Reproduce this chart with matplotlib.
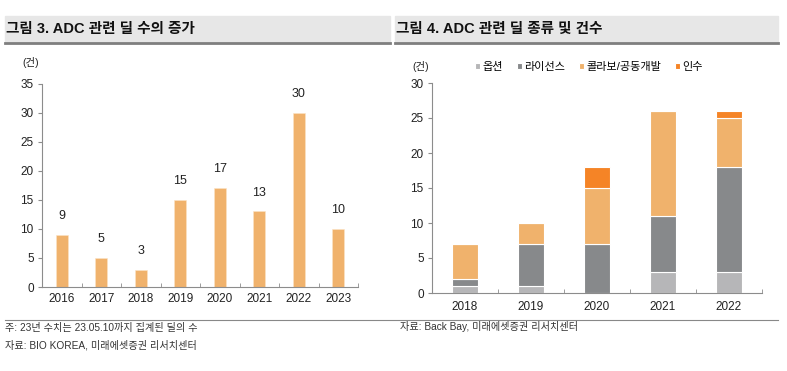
import matplotlib.pyplot as plt
import numpy as np
from matplotlib.patches import Rectangle
from matplotlib.lines import Line2D

plt.rcParams['font.family'] = ['Liberation Sans', 'Noto Sans CJK KR', 'DejaVu Sans']

# left chart: number of ADC deals per year
years_l = ['2016', '2017', '2018', '2019', '2020', '2021', '2022', '2023']
deals = [9, 5, 3, 15, 17, 13, 30, 10]

# right chart: deal types per year
years_r = ['2018', '2019', '2020', '2021', '2022']
series_names = ['옵션', '라이선스', '콜라보/공동개발', '인수']
option = [1, 1, 0, 3, 3]
license_ = [1, 6, 7, 8, 15]
collab = [5, 3, 8, 15, 7]
acquis = [0, 0, 3, 0, 1]
series = [option, license_, collab, acquis]
colors = ['#b6b6b8', '#87898b', '#f0b26c', '#f58426']

W, H = 787, 371
fig = plt.figure(figsize=(W / 100, H / 100), dpi=100)

def fx(x):
    return x / W

def fy(y):
    return 1 - y / H

def px_axes(x0, y0, x1, y1):
    return fig.add_axes([fx(x0), fy(y1), fx(x1 - x0), (y1 - y0) / H])

# title bands
for x0, x1, title in [(5, 390, '그림 3. ADC 관련 딜 수의 증가'),
                      (395, 778, '그림 4. ADC 관련 딜 종류 및 건수')]:
    fig.patches.append(Rectangle((fx(x0), fy(42)), fx(x1 - x0), 26 / H,
                                 transform=fig.transFigure, color='#e7e7e7', zorder=0))
    fig.lines.append(Line2D([fx(x0), fx(x1)], [fy(43), fy(43)], transform=fig.transFigure,
                            color='#7f7f7f', lw=2))
    fig.text(fx(x0 + 1), fy(29), title, fontsize=10.5, fontweight='bold',
             va='center', ha='left', color='#111111')

# bottom divider
fig.lines.append(Line2D([fx(5), fx(778)], [fy(320), fy(320)], transform=fig.transFigure,
                        color='#888888', lw=0.8))

spine_c = '#8c8c8c'

def style(ax):
    for s in ['top', 'right']:
        ax.spines[s].set_visible(False)
    for s in ['left', 'bottom']:
        ax.spines[s].set_color(spine_c)
        ax.spines[s].set_linewidth(0.8)
    ax.tick_params(axis='y', length=3, color=spine_c, labelsize=8.5, pad=3, colors='#222222')
    ax.tick_params(axis='x', which='major', length=0, labelsize=8.5, pad=4, colors='#222222')
    ax.tick_params(axis='x', which='minor', length=3, color=spine_c, direction='in')

# left chart
ax1 = px_axes(42, 83.5, 358, 287)
x1 = np.arange(len(years_l))
ax1.bar(x1, deals, width=0.31, color='#f0b26c', edgecolor='#fbe3c6', linewidth=0.4)
for xi, v in zip(x1, deals):
    ax1.text(xi, v + 2.2, str(v), ha='center', va='bottom', fontsize=9, color='#222222')
ax1.set_xlim(-0.5, len(years_l) - 0.5)
ax1.set_ylim(0, 35)
ax1.set_yticks(range(0, 36, 5))
ax1.set_xticks(x1)
ax1.set_xticklabels(years_l)
ax1.set_xticks(np.arange(-0.5, len(years_l)), minor=True)
style(ax1)
fig.text(fx(22), fy(62), '(건)', fontsize=7.5, va='center', ha='left', color='#222222')

# right chart
ax2 = px_axes(432, 83, 762, 293)
x2 = np.arange(len(years_r))
bottom = np.zeros(len(years_r))
for name, vals, c in zip(series_names, series, colors):
    ax2.bar(x2, vals, bottom=bottom, width=0.38, color=c, edgecolor='white',
            linewidth=0.8, label=name)
    bottom += np.array(vals)
ax2.set_xlim(-0.5, len(years_r) - 0.5)
ax2.set_ylim(0, 30)
ax2.set_yticks(range(0, 31, 5))
ax2.set_xticks(x2)
ax2.set_xticklabels(years_r)
ax2.set_xticks(np.arange(-0.5, len(years_r)), minor=True)
style(ax2)
ax2.tick_params(axis='x', which='major', pad=6)
fig.text(fx(412), fy(67), '(건)', fontsize=7.5, va='center', ha='left', color='#222222')
ax2.legend(loc='center', bbox_to_anchor=(fx(589), fy(67)), bbox_transform=fig.transFigure,
           ncol=4, frameon=False, fontsize=8, handlelength=0.45, handleheight=0.45,
           handletextpad=0.25, columnspacing=1.2)

# notes
fig.text(fx(5), fy(328), '주: 23년 수치는 23.05.10까지 집계된 딜의 수', fontsize=7.3,
         va='center', ha='left', color='#333333')
fig.text(fx(5), fy(345), '자료: BIO KOREA, 미래에셋증권 리서치센터', fontsize=7.3,
         va='center', ha='left', color='#333333')
fig.text(fx(400), fy(327), '자료: Back Bay, 미래에셋증권 리서치센터', fontsize=7.3,
         va='center', ha='left', color='#333333')

fig.savefig('out.png', dpi=100)
